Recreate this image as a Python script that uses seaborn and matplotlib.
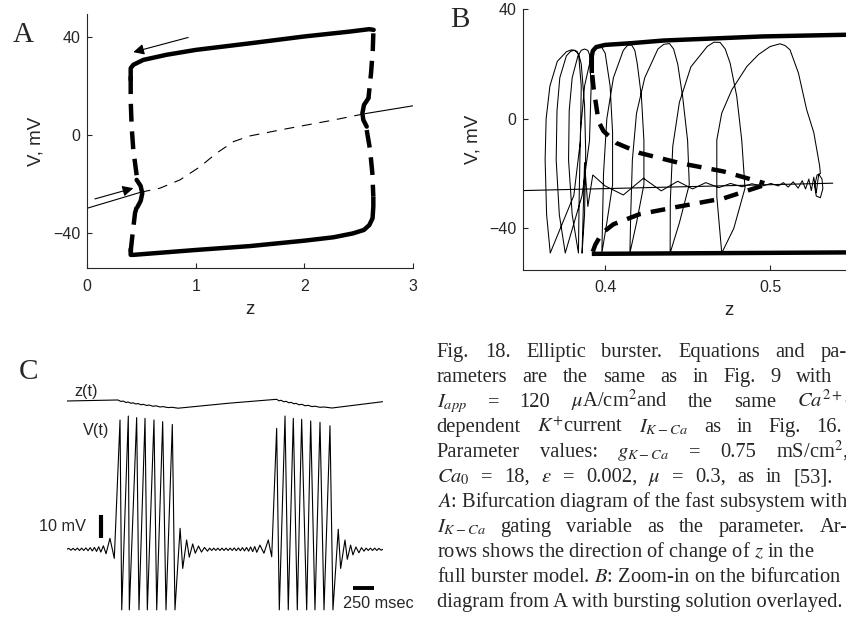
import seaborn as sns
import matplotlib.pyplot as plt

# ---------------- data ----------------
# A: bifurcation diagram of the fast subsystem
a_upper_z = [0.40, 0.40, 0.424, 0.516, 0.73, 1.0, 1.5, 2.0, 2.42, 2.6, 2.64]
a_upper_v = [22.5, 27.3, 28.7, 30.7, 32.8, 34.8, 37.5, 40.3, 42.3, 43.3, 43.0]
a_lower_z = [0.40, 0.40, 0.424, 1.0, 1.5, 2.0, 2.27, 2.45, 2.55, 2.60, 2.63, 2.637, 2.637]
a_lower_v = [-46.4, -49.1, -49.1, -47.1, -45.5, -43.3, -41.9, -40.3, -38.9, -36.9, -34.1, -29.3, -25.3]
a_unst_left_top_z = [0.40, 0.40, 0.409, 0.424, 0.455]
a_unst_left_top_v = [24.0, 14.3, 3.4, -6.1, -16.5]
a_unst_left_bot_z = [0.455, 0.44, 0.418, 0.403, 0.40]
a_unst_left_bot_v = [-29.6, -32.0, -40.3, -46.4, -49.1]
a_unst_right_top_z = [2.637, 2.632, 2.616, 2.592]
a_unst_right_top_v = [41.6, 34.8, 25.3, 15.0]
a_unst_right_bot_z = [2.576, 2.607, 2.628, 2.637]
a_unst_right_bot_v = [2.0, -6.1, -15.7, -25.3]
a_hopf_left_z = [0.455, 0.492, 0.507, 0.492, 0.461]
a_hopf_left_v = [-18.4, -20.9, -23.9, -27.0, -29.6]
a_hopf_right_z = [2.592, 2.551, 2.536, 2.545, 2.576]
a_hopf_right_v = [15.0, 12.3, 8.9, 6.1, 3.4]
a_eq_stable1_z = [0.0, 0.49]
a_eq_stable1_v = [-30.0, -23.5]
a_eq_unstable_z = [0.49, 0.67, 0.855, 1.04, 1.19, 1.35, 1.5, 1.81, 2.27, 2.56]
a_eq_unstable_v = [-23.5, -21.8, -18.4, -13.0, -7.5, -2.7, -0.4, 2.3, 6.1, 8.7]
a_eq_stable2_z = [2.56, 3.0]
a_eq_stable2_v = [8.7, 11.9]
a_arrow_up = [(0.93, 39.9), (0.424, 33.9)]
a_arrow_low = [(0.07, -26.2), (0.424, -21.8)]

# B: zoom-in with bursting solution
b_top_z = [0.3919, 0.3919, 0.3925, 0.3945, 0.40, 0.4152, 0.4354, 0.496, 0.546, 0.60]
b_top_v = [16.7, 22.8, 24.8, 26.2, 27.0, 27.6, 28.6, 30.1, 30.7, 31.0]
b_bot_z = [0.3919, 0.60]
b_bot_v = [-49.3, -48.6]
b_unst_top_z = [0.3922, 0.393, 0.396, 0.399, 0.407, 0.4212, 0.4455, 0.4717, 0.4965]
b_unst_top_v = [16.0, 11.2, -1.0, -4.5, -8.9, -12.5, -16.2, -19.2, -23.5]
b_unst_bot_z = [0.3925, 0.394, 0.398, 0.405, 0.421, 0.445, 0.472, 0.4965]
b_unst_bot_v = [-48.5, -46.0, -41.8, -38.5, -34.8, -32.0, -29.0, -24.2]
b_eq_z = [0.35, 0.538]
b_eq_v = [-26.2, -23.5]
b_traj_z = [
    0.3860, 0.3875, 0.3895, 0.3925, 0.4000, 0.4110, 0.4232, 0.4340, 0.4440, 0.4530,
    0.4610, 0.4690, 0.4760, 0.4830, 0.4890, 0.4950, 0.5005, 0.5050, 0.5080, 0.5110,
    0.5140, 0.5170, 0.5195, 0.5215, 0.5235, 0.5250, 0.5265,
    0.5280, 0.5295, 0.5315, 0.5320, 0.5305, 0.5280, 0.5270, 0.5285, 0.5305,
    0.5300, 0.5265, 0.5222, 0.5172, 0.5121, 0.5090, 0.5060, 0.5000, 0.4930, 0.4859, 0.4768, 0.4707, 0.4677, 0.4677, 0.4707,
    0.4780, 0.4848, 0.4828, 0.4798, 0.4758, 0.4728, 0.4697, 0.4660, 0.4620, 0.4520, 0.4450, 0.4410, 0.4395, 0.4394,
    0.4450, 0.4510, 0.4500, 0.4470, 0.4440, 0.4415, 0.4390, 0.4355, 0.4320, 0.4240, 0.4190, 0.4165, 0.4155, 0.4150,
    0.4190, 0.4235, 0.4235, 0.4220, 0.4195, 0.4180, 0.4160, 0.4135, 0.4110, 0.4050, 0.4010, 0.3990, 0.3980,
    0.4010, 0.4045, 0.4045, 0.4030, 0.4000, 0.3980, 0.3960, 0.3940, 0.3920, 0.3875, 0.3850, 0.3842, 0.3838,
    0.3800, 0.3778, 0.3782, 0.3800, 0.3835, 0.3855, 0.3875, 0.3895, 0.3905, 0.3915, 0.3905, 0.3860, 0.3758,
    0.3722, 0.3703, 0.3708, 0.3725, 0.3765, 0.3790, 0.3810, 0.3830, 0.3840, 0.3855, 0.3850, 0.3810, 0.3667,
    0.3645, 0.3636, 0.3642, 0.3665, 0.3710, 0.3765, 0.3795, 0.3818, 0.3840, 0.3855, 0.3875, 0.3882, 0.3875, 0.3860,
]
b_traj_v = [
    -49.0, -16.0, -32.0, -20.5, -24.5, -27.8, -21.7, -26.3, -22.8, -25.6,
    -23.3, -25.1, -23.6, -24.8, -23.7, -24.6, -23.6, -24.5, -23.3, -24.9,
    -23.0, -25.3, -22.6, -25.6, -22.0, -26.2, -21.3,
    -27.0, -20.2, -22.0, -25.5, -28.8, -28.2, -24.5, -20.5, -20.0,
    -17.0, -5.0, 3.3, 16.7, 25.2, 26.8, 27.4, 26.4, 23.5, 19.1, 10.6, 2.1, -7.7, -28.4, -49.0,
    -40.0, -25.3, -7.7, 8.2, 20.3, 25.5, 27.9, 28.0, 26.5, 19.0, 6.0, -10.0, -30.0, -49.0,
    -38.0, -24.0, -8.0, 8.0, 20.0, 25.5, 27.5, 27.2, 25.5, 15.0, 2.0, -15.0, -35.0, -49.0,
    -38.0, -24.0, -8.0, 8.0, 20.0, 25.0, 27.0, 26.8, 25.0, 15.0, 0.0, -20.0, -49.0,
    -38.0, -24.0, -5.0, 12.0, 24.0, 26.0, 26.5, 26.0, 24.0, 12.0, -5.0, -30.0, -49.0,
    -35.0, -15.0, 3.0, 15.0, 23.0, 25.0, 25.5, 25.0, 23.5, 12.0, -8.0, -28.0, -49.0,
    -35.0, -15.0, 3.0, 15.0, 23.0, 24.6, 25.0, 24.6, 23.0, 12.0, -8.0, -28.0, -49.0,
    -35.0, -15.0, 0.0, 12.0, 21.0, 24.5, 25.2, 25.0, 23.5, 20.0, 5.0, -12.0, -35.0, -49.0,
]

# C: time courses (msec, mV)
c_t = [
    0, 25, 50, 75, 100, 125, 150, 175, 200, 225, 250, 275, 300, 325, 350, 375, 400, 430, 461, 507, 558,
    625, 645, 722, 734, 820, 847, 918, 945, 1023, 1055, 1125, 1164, 1238, 1269,
    1329, 1360, 1406, 1437, 1477, 1507, 1545, 1580, 1615, 1650, 1675, 1700, 1724, 1748, 1772, 1796,
    1820, 1844, 1868, 1892, 1916, 1940, 1964, 1988, 2012, 2036, 2060, 2084, 2108, 2132, 2156, 2180,
    2204, 2228, 2265, 2312, 2363, 2403,
    2461, 2492, 2559, 2597, 2656, 2703, 2754, 2813, 2860, 2910, 2969, 3016, 3086, 3121,
    3183, 3211, 3262, 3289, 3328, 3355, 3390, 3425, 3455, 3485, 3510, 3535, 3560, 3585, 3610, 3635,
    3660, 3685, 3704,
]
c_v = [
    -24.0, -23.6, -24.4, -23.6, -24.4, -23.5, -24.5, -23.5, -24.5, -23.4, -24.6, -23.3, -24.7, -23.2,
    -24.9, -22.9, -25.2, -22.5, -25.9, -19.3, -27.9,
    31.5, -50.0, 33.2, -50.0, 32.5, -50.0, 32.2, -50.0, 31.5, -50.0, 30.8, -50.0, 29.6, -50.0,
    -15.0, -32.2, -20.0, -27.4, -21.7, -25.7, -22.6, -25.2, -23.2, -24.8, -23.5, -24.5, -23.5, -24.5,
    -23.5, -24.5, -23.5, -24.5, -23.5, -24.5, -23.5, -24.5, -23.4, -24.6, -23.4, -24.6, -23.3, -24.7,
    -23.2, -24.8, -23.0, -25.0, -22.8, -25.3, -22.2, -25.7, -20.0, -27.2,
    27.9, -50.0, 33.2, -50.0, 32.2, -50.0, 31.8, -50.0, 31.1, -50.0, 30.5, -50.0, 29.0, -50.0,
    -15.4, -32.2, -20.0, -28.3, -22.2, -26.4, -23.0, -25.5, -23.3, -24.8, -23.5, -24.5, -23.5, -24.5,
    -23.5, -24.5, -23.6, -24.4, -24.0,
]
c_zt = [0, 586, 601, 636, 660, 695, 719, 754, 777, 812, 836, 871, 894, 941, 965, 1011, 1047, 1094,
        1129, 1188, 1235, 1306, 1900, 2461, 2488, 2512, 2547, 2570, 2605, 2629, 2664, 2687, 2722,
        2758, 2793, 2828, 2875, 2910, 2969, 3016, 3110, 3704]
c_z = [0.5075, 0.5236, 0.5236, 0.4995, 0.5075, 0.4834, 0.4914, 0.4705, 0.4786, 0.4592, 0.4673,
       0.4464, 0.4544, 0.4351, 0.4431, 0.4222, 0.4303, 0.4109, 0.4174, 0.4013, 0.4061, 0.3916,
       0.472, 0.5349, 0.5108, 0.5188, 0.4947, 0.5027, 0.4786, 0.4866, 0.4625, 0.4705, 0.4464,
       0.4544, 0.4303, 0.4383, 0.4174, 0.4238, 0.4061, 0.4109, 0.3948, 0.4963]
bar_mv_t = [398, 398]
bar_mv_v = [-19.3, -9.3]
bar_ms_t = [3352, 3602]
bar_ms_v = [-40.7, -40.7]

# caption: (x of first word, x of last word, words) -- justified between the two
caption_lines = [
    (436.7, 820.7, ['Fig.', '18.', 'Elliptic', 'burster.', 'Equations', 'and', 'pa-']),
    (436.7, 796.0, ['rameters', 'are', 'the', 'same', 'as', 'in', 'Fig.', '9', 'with']),
    (436.7, 796.7, ['$I_{app}$', '=', '120', r'$\mu$A/cm$^2$and', 'the', 'same', '$Ca^{2+}$-']),
    (436.7, 816.7, ['dependent', '$K^{+}$current', '$I_{K-Ca}$', 'as', 'in', 'Fig.', '16.']),
    (436.7, 776.0, ['Parameter', 'values:', '$g_{K-Ca}$', '=', '0.75', 'mS/cm$^2$,']),
    (436.7, 793.3, ['$Ca_0$', '=', '18,', r'$\epsilon$', '=', '0.002,', r'$\mu$', '=', '0.3,',
                    'as', 'in', '[53].']),
    (436.7, None, ['$A$: Bifurcation diagram of the fast subsystem with']),
    (436.7, 820.0, ['$I_{K-Ca}$', 'gating', 'variable', 'as', 'the', 'parameter.', 'Ar-']),
    (436.7, None, ['rows shows the direction of change of $z$ in the']),
    (436.7, None, ['full burster model. $B$: Zoom-in on the bifurcation']),
    (436.7, None, ['diagram from A with bursting solution overlayed.']),
]

# ---------------- style ----------------
sns.set_style("ticks", {"xtick.direction": "in", "ytick.direction": "in"})
plt.rcParams['font.family'] = ['Liberation Sans', 'DejaVu Sans']
plt.rcParams['mathtext.fontset'] = 'stix'
plt.rcParams['axes.linewidth'] = 0.8
plt.rcParams['xtick.major.width'] = 0.8
plt.rcParams['ytick.major.width'] = 0.8
plt.rcParams['xtick.major.size'] = 3.5
plt.rcParams['ytick.major.size'] = 3.5

W, H = 846, 619
fig = plt.figure(figsize=(W / 100, H / 100), dpi=100)


def px(x0, y0, x1, y1):
    # figure rectangle from pixel box
    return [x0 / W, 1 - y1 / H, (x1 - x0) / W, (y1 - y0) / H]


def draw(ax, xs, ys, lw=0.8, **kw):
    sns.lineplot(x=xs, y=ys, sort=False, estimator=None, ax=ax, color='k', lw=lw, **kw)


THICK = 3.2
DASH_A = (0, (4.0, 2.2))
DASH_B = (0, (3.3, 2.3))

# ---------------- panel A ----------------
axA = fig.add_axes(px(87.3, 14, 412.7, 268.3))
draw(axA, a_eq_stable1_z, a_eq_stable1_v)
draw(axA, a_eq_unstable_z, a_eq_unstable_v, linestyle=(0, (9, 7)))
draw(axA, a_eq_stable2_z, a_eq_stable2_v)
draw(axA, a_upper_z, a_upper_v, lw=THICK, solid_capstyle='round', solid_joinstyle='round')
draw(axA, a_lower_z, a_lower_v, lw=THICK, solid_capstyle='butt', solid_joinstyle='round')
for zs, vs in [(a_unst_left_top_z, a_unst_left_top_v), (a_unst_left_bot_z, a_unst_left_bot_v),
               (a_unst_right_top_z, a_unst_right_top_v), (a_unst_right_bot_z, a_unst_right_bot_v)]:
    draw(axA, zs, vs, lw=THICK, linestyle=DASH_A)
draw(axA, a_hopf_left_z, a_hopf_left_v, lw=THICK)
draw(axA, a_hopf_right_z, a_hopf_right_v, lw=THICK)
for (s, e) in [a_arrow_up, a_arrow_low]:
    axA.annotate('', xy=e, xytext=s,
                 arrowprops=dict(arrowstyle='-|>', color='k', lw=0.8,
                                 mutation_scale=16, shrinkA=0, shrinkB=0))
axA.set_xlim(0, 3)
axA.set_ylim(-54.6, 49.5)
axA.set_xticks([0, 1, 2, 3])
axA.set_yticks([-40, 0, 40])
axA.set_yticklabels(['\u221240', '0', '40'])
axA.tick_params(axis='x', labelsize=11.5, pad=8.0)
axA.tick_params(axis='y', labelsize=11.5, pad=4.8)
axA.set_xlabel('z', fontsize=13.5)
axA.set_ylabel('V, mV', fontsize=13.5)
axA.xaxis.set_label_coords(0.5, -0.13)
axA.yaxis.set_label_coords(-0.133, 0.5)
sns.despine(ax=axA)

# ---------------- panel B ----------------
axB = fig.add_axes(px(522.7, 9.3, 935, 270))
draw(axB, b_eq_z, b_eq_v)
draw(axB, b_traj_z, b_traj_v, lw=0.75)
draw(axB, b_top_z, b_top_v, lw=THICK, solid_capstyle='butt', solid_joinstyle='round')
draw(axB, b_bot_z, b_bot_v, lw=THICK, solid_capstyle='butt')
draw(axB, b_unst_top_z, b_unst_top_v, lw=THICK, linestyle=DASH_B)
draw(axB, b_unst_bot_z, b_unst_bot_v, lw=THICK, linestyle=DASH_B)
axB.set_xlim(0.35, 0.60)
axB.set_ylim(-55.2, 40)
axB.set_xticks([0.4, 0.5])
axB.set_yticks([-40, 0, 40])
axB.set_yticklabels(['\u221240', '0', '40'])
axB.tick_params(axis='x', labelsize=11.5, pad=7.2)
axB.tick_params(axis='y', labelsize=11.5, pad=4.3)
axB.set_xlabel('z', fontsize=13.5)
axB.set_ylabel('V, mV', fontsize=13.5)
axB.xaxis.set_label_coords(0.5, -0.124)
axB.yaxis.set_label_coords(-0.101, 0.5)
sns.despine(ax=axB)

# ---------------- panel C ----------------
axC = fig.add_axes(px(66.7, 380, 382.7, 615))
draw(axC, c_t, c_v, lw=0.8)
axC.plot(bar_mv_t, bar_mv_v, color='k', lw=3.0, solid_capstyle='butt')
axC.plot(bar_ms_t, bar_ms_v, color='k', lw=2.8, solid_capstyle='butt')
axC.set_xlim(0, 3704)
axC.set_ylim(-52.2, 48.66)
axC.axis('off')

axZ = fig.add_axes(px(66.7, 390, 382.7, 415))
draw(axZ, c_zt, c_z, lw=0.8)
axZ.set_xlim(0, 3704)
axZ.set_ylim(0.2821, 0.6846)
axZ.axis('off')

fs_c = 11.7
fig.text(74 / W, 1 - 391.5 / H, 'z(t)', fontsize=fs_c, va='center', ha='left')
fig.text(82.7 / W, 1 - 430 / H, 'V(t)', fontsize=fs_c, va='center', ha='left')
fig.text(86 / W, 1 - 526.7 / H, '10 mV', fontsize=fs_c, va='center', ha='right')
fig.text(343.3 / W, 1 - 603.3 / H, '250 msec', fontsize=fs_c, va='center', ha='left')

# panel letters
serif = ['Liberation Serif', 'DejaVu Serif']
for x, y, s in [(12.7, 41.7, 'A'), (450, 26.7, 'B'), (18.3, 379.3, 'C')]:
    fig.text(x / W, 1 - y / H, s, fontsize=21, family=serif, va='baseline', ha='left')

# caption, justified word by word
renderer = fig.canvas.get_renderer()
for i, (x_first, x_last, words) in enumerate(caption_lines):
    yb = 1 - (356.7 + 25.06 * i) / H
    texts = [fig.text(x_first / W, yb, w, fontsize=14.8, family=serif,
                      va='baseline', ha='left') for w in words]
    if x_last is None or len(texts) < 2:
        continue
    widths = [t.get_window_extent(renderer).width for t in texts]
    gap = (x_last - x_first - sum(widths[:-1])) / (len(texts) - 1)
    x = x_first
    for t, w in zip(texts, widths):
        t.set_x(x / W)
        x += w + gap

plt.savefig('out.png', dpi=100)
